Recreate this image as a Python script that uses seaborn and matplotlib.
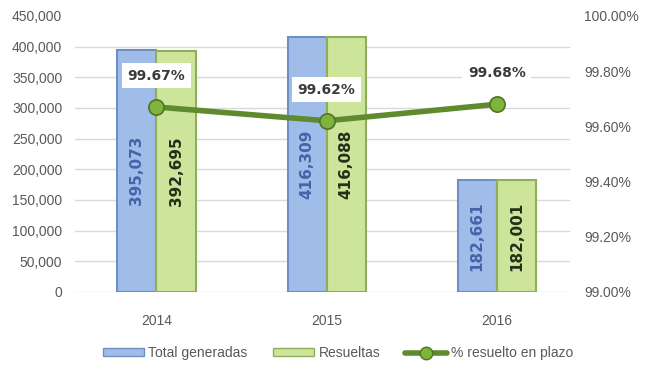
import numpy as np
import pandas as pd
import matplotlib
matplotlib.use("Agg")
import matplotlib.pyplot as plt
from matplotlib.lines import Line2D
from matplotlib.patches import Patch
import seaborn as sns

# Data
years = ["2014", "2015", "2016"]
total_generadas = [395073, 416309, 182661]
resueltas = [392695, 416088, 182001]
pct_plazo = [99.67, 99.62, 99.68]

series_names = ["Total generadas", "Resueltas"]
line_name = "% resuelto en plazo"

df = pd.DataFrame({
    "year": years * 2,
    "serie": [series_names[0]] * len(years) + [series_names[1]] * len(years),
    "valor": total_generadas + resueltas,
})

sns.set_theme(style="white")
plt.rcParams["font.family"] = ["Liberation Sans", "DejaVu Sans"]

blue_fill, blue_edge, blue_text = "#a0bdea", "#6f8fc4", "#4463aa"
green_fill, green_edge, green_text = "#cde49b", "#8fae5a", "#22301a"
line_col, marker_col, marker_edge = "#5f8a2e", "#7fb43c", "#4f7424"
tick_col = "#595959"
grid_col = "#d9d9d9"

fig = plt.figure(figsize=(6.5, 3.7), dpi=100)
ax = fig.add_axes([0.115, 0.211, 0.762, 0.746])

sns.barplot(data=df, x="year", y="valor", hue="serie", order=years,
            hue_order=series_names, palette=[blue_fill, green_fill],
            width=0.46, ax=ax, legend=False, saturation=1)

edge_cols = [blue_edge, green_edge]
text_cols = [blue_text, green_text]
for i, cont in enumerate(ax.containers):
    for bar in cont:
        bar.set_edgecolor(edge_cols[i])
        bar.set_linewidth(1.5)
    ax.bar_label(cont, labels=[f"{v:,.0f}" for v in cont.datavalues],
                 label_type="center", rotation=90, color=text_cols[i],
                 fontsize=11, fontweight="bold", family="DejaVu Sans")

ax.set_ylim(0, 450000)
ax.set_xlim(-0.48, 2.43)
ax.set_yticks(np.arange(0, 450001, 50000))
ax.yaxis.set_major_formatter(matplotlib.ticker.FuncFormatter(lambda v, p: f"{v:,.0f}"))
ax.set_xlabel("")
ax.set_ylabel("")
ax.grid(axis="y", color=grid_col, linewidth=1)
ax.set_axisbelow(True)
ax.get_ygridlines()[-1].set_visible(False)
for s in ax.spines.values():
    s.set_visible(False)
ax.tick_params(axis="y", length=0, pad=9, labelsize=10, labelcolor=tick_col)
ax.tick_params(axis="x", length=0, pad=16, labelsize=10, labelcolor=tick_col)

# Percentage line on secondary axis
ax2 = ax.twinx()
xpos = np.arange(len(years))
ax2.plot(xpos, pct_plazo, color=line_col, linewidth=4, marker="o",
         markersize=11, markerfacecolor=marker_col, markeredgecolor=marker_edge,
         markeredgewidth=1.2, zorder=5, solid_capstyle="round")
ax2.set_ylim(99.0, 100.0)
ax2.set_yticks(np.arange(99.0, 100.001, 0.2))
ax2.yaxis.set_major_formatter(matplotlib.ticker.FuncFormatter(lambda v, p: f"{v:.2f}%"))
ax2.tick_params(axis="y", length=0, pad=10, labelsize=10, labelcolor=tick_col)
ax2.grid(False)
for s in ax2.spines.values():
    s.set_visible(False)

for x, v in zip(xpos, pct_plazo):
    ax2.annotate(f"{v:.2f}%", (x, v), xytext=(0, 22.5), textcoords="offset points",
                 ha="center", va="center", fontsize=10, fontweight="bold",
                 color="#3a3a3a", family="DejaVu Sans",
                 bbox=dict(boxstyle="square,pad=0.4", fc="white", ec="none"),
                 zorder=6)

handles = [
    Patch(facecolor=blue_fill, edgecolor=blue_edge, label=series_names[0]),
    Patch(facecolor=green_fill, edgecolor=green_edge, label=series_names[1]),
    Line2D([0], [0], color=line_col, linewidth=4, marker="o", markersize=9,
           markerfacecolor=marker_col, markeredgecolor=marker_edge, label=line_name),
]
fig.legend(handles=handles, loc="center", bbox_to_anchor=(0.52, 0.045), ncol=3,
           frameon=False, fontsize=10, handlelength=3.0, handleheight=0.5,
           columnspacing=1.8, handletextpad=0.3, labelcolor=tick_col)

fig.savefig("out.png", dpi=100, facecolor="white")
